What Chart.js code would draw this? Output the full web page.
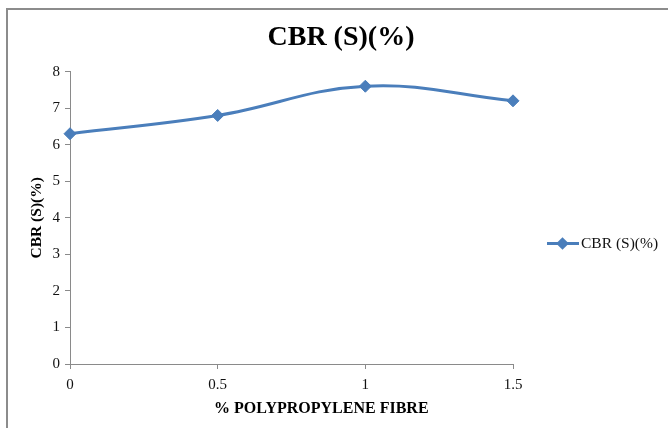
<!DOCTYPE html>
<html>
<head>
<meta charset="utf-8">
<title>CBR (S)(%)</title>
<script src="https://cdn.jsdelivr.net/npm/chart.js@4.4.1/dist/chart.umd.min.js"></script>
<style>
    html, body { margin: 0; padding: 0; background: #fff; overflow: hidden; }
    #wrap { position: relative; width: 668px; height: 428px; }
    /* the chart frame: only its left and top edges fall inside the picture */
    #frame { position: absolute; left: 6px; top: 8px; width: 720px; height: 480px;
             border-left: 2px solid #8c8c8c; border-top: 2px solid #8c8c8c; }
    #chart { position: absolute; left: 0; top: 0; }
    #legend { position: absolute; left: 547px; top: 234px; display: flex; align-items: center;
              font: 15.5px "Liberation Serif", "Times New Roman", serif; color: #111; }
    #legend .icon { position: relative; width: 32px; height: 16px; margin-right: 2px; }
    #legend .icon .line { position: absolute; left: 0; top: 6.5px; width: 32px; height: 3px; }
    #legend .icon .mark { position: absolute; left: 11px; top: 3.5px; width: 9px; height: 9px; transform: rotate(45deg); }
    /* x axis title sits a little right of the plot centre in the original */
    #xtitle { position: absolute; left: 214px; top: 399px; white-space: nowrap;
              font: bold 16px "Liberation Serif", "Times New Roman", serif; color: #000; }
</style>
</head>
<body>
<div id="wrap">
    <div id="frame"></div>
    <canvas id="chart" width="668" height="428"></canvas>
    <div id="legend"></div>
    <div id="xtitle"></div>
</div>
<script>
// data
var fibre = [0, 0.5, 1, 1.5];          // % polypropylene fibre
var cbr = [6.3, 6.8, 7.6, 7.2];         // CBR (S)(%)
var xTicks = [0, 0.5, 1, 1.5];
var yTicks = [0, 1, 2, 3, 4, 5, 6, 7, 8];

var seriesName = "CBR (S)(%)";
var xTitle = "% POLYPROPYLENE FIBRE";
var lineColour = "#4a7ebb";
var axisColour = "#8a8a8a";
var serif = "'Liberation Serif', 'Times New Roman', serif";

var points = fibre.map(function(x, i) { return { x: x, y: cbr[i] }; });

function fixedTicks(values) {
    return function(scale) {
        scale.ticks = values.map(function(v) { return { value: v }; });
    };
}

function plainLabel(value) {
    return String(value);
}

var chart = new Chart(document.getElementById("chart"), {
    type: "line",
    data: {
        datasets: [{
            label: seriesName,
            data: points,
            borderColor: lineColour,
            backgroundColor: lineColour,
            borderWidth: 3,
            tension: 0.4,
            pointStyle: "rectRot",
            pointRadius: 6,
            pointHoverRadius: 6,
            pointBorderWidth: 1,
            pointBorderColor: lineColour,
            pointBackgroundColor: lineColour,
            clip: false
        }]
    },
    options: {
        responsive: false,
        animation: false,
        events: [],
        layout: { padding: { left: 14, right: 0, top: 0, bottom: 0 } },
        plugins: {
            legend: { display: false },
            tooltip: { enabled: false },
            title: {
                display: true,
                text: "CBR (S)(%)",
                color: "#000",
                font: { family: serif, size: 28, weight: "bold" },
                padding: { top: 21, bottom: 17 }
            }
        },
        scales: {
            x: {
                type: "linear",
                min: 0,
                max: 1.5,
                afterBuildTicks: fixedTicks(xTicks),
                afterFit: function(s) { s.height = 64; },
                grid: { drawOnChartArea: false, drawTicks: true, tickLength: 5, color: axisColour },
                border: { display: true, color: axisColour, width: 1 },
                ticks: { padding: 7, color: "#111", font: { family: serif, size: 15 }, callback: plainLabel },
                title: { display: false }
            },
            y: {
                min: 0,
                max: 8,
                afterBuildTicks: fixedTicks(yTicks),
                afterFit: function(s) { s.width = 56; },
                grid: { drawOnChartArea: false, drawTicks: true, tickLength: 5, color: axisColour },
                border: { display: true, color: axisColour, width: 1 },
                ticks: { padding: 5, color: "#111", font: { family: serif, size: 15 }, callback: plainLabel },
                title: {
                    display: true,
                    text: "CBR (S)(%)",
                    color: "#000",
                    font: { family: serif, size: 15.5, weight: "bold" },
                    padding: { top: 14, bottom: 0 }
                }
            },
            // empty right-hand axis that only reserves the room where the legend sits
            legendRoom: {
                type: "linear",
                position: "right",
                display: true,
                afterFit: function(s) { s.width = 155; },
                grid: { display: false, drawTicks: false },
                border: { display: false },
                ticks: { display: false }
            }
        }
    }
});

document.getElementById("xtitle").textContent = xTitle;

// legend built from the chart's own dataset
var legend = document.getElementById("legend");
chart.data.datasets.forEach(function(ds) {
    legend.innerHTML = '<div class="icon"><div class="line" style="background:' + ds.borderColor + '"></div>' +
        '<div class="mark" style="background:' + ds.backgroundColor + '"></div></div>' +
        '<span>' + ds.label + '</span>';
});
</script>
</body>
</html>
